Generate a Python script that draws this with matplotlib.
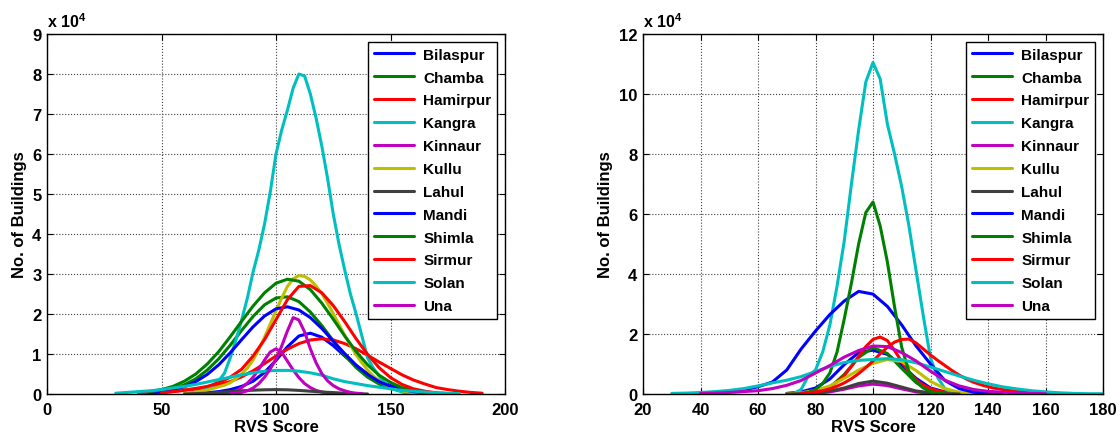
import numpy as np
import matplotlib
matplotlib.use("Agg")
import matplotlib.pyplot as plt

plt.rcParams['font.family'] = ['Liberation Sans', 'DejaVu Sans']
plt.rcParams['font.weight'] = 'bold'

districts = ["Bilaspur", "Chamba", "Hamirpur", "Kangra", "Kinnaur", "Kullu",
             "Lahul", "Mandi", "Shimla", "Sirmur", "Solan", "Una"]
colors = [(0, 0, 1), (0, 0.5, 0), (1, 0, 0), (0, 0.75, 0.75), (0.75, 0, 0.75),
          (0.75, 0.75, 0), (0.25, 0.25, 0.25), (0, 0, 1), (0, 0.5, 0), (1, 0, 0),
          (0, 0.75, 0.75), (0.75, 0, 0.75)]

# ---- Left panel: (first x, x step, no. of buildings in units of 1e4) ----
L_bilaspur = (65, 5, [0.01, 0.03, 0.06, 0.11, 0.19, 0.32, 0.54, 0.84, 1.18, 1.45, 1.52, 1.42, 1.21, 0.95,
                      0.71, 0.50, 0.33, 0.21, 0.13, 0.07, 0.04, 0.02])
L_chamba = (45, 5, [0.03, 0.07, 0.13, 0.23, 0.38, 0.60, 0.88, 1.22, 1.59, 1.94, 2.23, 2.40, 2.43, 2.31,
                    2.05, 1.71, 1.33, 0.97, 0.66, 0.42, 0.25, 0.14, 0.07, 0.04, 0.02])
L_hamirpur = (40, 5, [0.01, 0.02, 0.04, 0.06, 0.09, 0.12, 0.17, 0.23, 0.31, 0.43, 0.58, 0.76, 0.95, 1.12,
                      1.26, 1.35, 1.38, 1.35, 1.26, 1.13, 0.97, 0.80, 0.64, 0.48, 0.35, 0.25, 0.16, 0.11,
                      0.07, 0.04, 0.02])
L_kangra = (62.5, 2.5, [0.02, 0.04, 0.08, 0.14, 0.22, 0.33, 0.52, 0.9, 1.35, 1.85, 2.4, 3.05, 3.6, 4.25,
                        5.05, 6.0, 6.6, 7.1, 7.65, 8.0, 7.95, 7.5, 6.9, 6.2, 5.4, 4.5, 3.75, 3.1, 2.5,
                        2.0, 1.45, 0.9, 0.65, 0.45, 0.28, 0.17, 0.1, 0.05, 0.02, 0.01])
L_kinnaur = (75, 2.5, [0.01, 0.02, 0.04, 0.08, 0.16, 0.27, 0.42, 0.62, 0.85, 1.05, 1.13, 1.04, 0.82, 0.60,
                       0.41, 0.26, 0.16, 0.09, 0.05, 0.03, 0.01])
L_kullu = (60, 2.5, [0.02, 0.035, 0.05, 0.07, 0.10, 0.14, 0.18, 0.22, 0.28, 0.38, 0.50, 0.65, 0.85, 1.12,
                     1.42, 1.75, 2.08, 2.40, 2.69, 2.88, 2.96, 2.94, 2.85, 2.70, 2.51, 2.27, 2.01, 1.74,
                     1.47, 1.22, 0.98, 0.78, 0.60, 0.45, 0.33, 0.24, 0.17, 0.12, 0.08, 0.05, 0.03, 0.02,
                     0.01])
L_lahul = (60, 5, [0.0, 0.01, 0.02, 0.04, 0.06, 0.08, 0.095, 0.105, 0.11, 0.105, 0.09, 0.07, 0.05, 0.035,
                   0.02, 0.01, 0.0])
L_mandi = (45, 5, [0.03, 0.05, 0.10, 0.18, 0.31, 0.49, 0.73, 1.03, 1.36, 1.68, 1.95, 2.13, 2.18, 2.10,
                   1.91, 1.64, 1.32, 1.01, 0.72, 0.49, 0.31, 0.19, 0.11, 0.06, 0.03])
L_shimla = (45, 5, [0.06, 0.11, 0.19, 0.32, 0.50, 0.75, 1.06, 1.43, 1.82, 2.20, 2.53, 2.77, 2.87, 2.82,
                    2.61, 2.27, 1.87, 1.45, 1.06, 0.73, 0.47, 0.29, 0.16, 0.09, 0.04, 0.02])
L_sirmur = (50, 5, [0.03, 0.06, 0.10, 0.14, 0.19, 0.28, 0.42, 0.62, 0.95, 1.36, 1.86, 2.36, 2.69, 2.71,
                    2.53, 2.21, 1.81, 1.38, 0.99, 0.66, 0.41, 0.24, 0.13, 0.07, 0.03, 0.01])
L_solan = (30, 5, [0.02, 0.04, 0.06, 0.08, 0.11, 0.15, 0.19, 0.24, 0.30, 0.36, 0.42, 0.48, 0.53, 0.57,
                   0.59, 0.59, 0.57, 0.53, 0.47, 0.38, 0.31, 0.26, 0.21, 0.17, 0.13, 0.09, 0.07, 0.05,
                   0.03, 0.02, 0.01])
L_una = (80, 2.5, [0.01, 0.02, 0.04, 0.08, 0.15, 0.26, 0.42, 0.63, 0.87, 1.2, 1.58, 1.91, 1.85, 1.55,
                   1.13, 0.78, 0.51, 0.33, 0.21, 0.13, 0.08, 0.04, 0.02, 0.01])

# ---- Right panel ----
R_bilaspur = (70, 5, [0.02, 0.07, 0.2, 0.5, 0.98, 1.38, 1.46, 1.32, 0.95, 0.52, 0.2, 0.07, 0.02, 0.0])
R_chamba = (75, 5, [0.01, 0.05, 0.22, 0.65, 1.22, 1.55, 1.35, 0.85, 0.38, 0.12, 0.03, 0.0])
R_hamirpur = (75, 2.5, [0.01, 0.03, 0.07, 0.14, 0.25, 0.40, 0.62, 0.92, 1.25, 1.58, 1.82, 1.9, 1.78, 1.45,
                        1.08, 0.74, 0.47, 0.30, 0.18, 0.11, 0.06, 0.03, 0.01])
R_kangra = (72.5, 2.5, [0.02, 0.15, 0.6, 0.8, 1.4, 2.3, 3.6, 5.1, 7.0, 8.8, 10.4, 11.05, 10.5, 9.0, 8.0,
                        6.9, 5.6, 4.1, 2.6, 1.2, 0.55, 0.18, 0.04])
R_kinnaur = (75, 5, [0.0, 0.02, 0.07, 0.16, 0.27, 0.33, 0.28, 0.17, 0.07, 0.02, 0.0])
R_kullu = (70, 5, [0.01, 0.04, 0.12, 0.27, 0.52, 0.8, 1.02, 1.15, 1.08, 0.78, 0.42, 0.18, 0.06, 0.02, 0.0])
R_lahul = (70, 5, [0.0, 0.01, 0.04, 0.1, 0.2, 0.35, 0.43, 0.36, 0.23, 0.1, 0.04, 0.01, 0.0])
R_mandi = (40, 5, [0.03, 0.05, 0.09, 0.14, 0.24, 0.4, 0.8, 1.5, 2.1, 2.65, 3.1, 3.42, 3.33, 2.92, 2.3,
                   1.6, 1.0, 0.45, 0.18, 0.06, 0.02, 0.0])
R_shimla = (75, 2.5, [0.02, 0.05, 0.15, 0.35, 0.7, 1.4, 2.5, 3.7, 5.0, 6.05, 6.4, 5.6, 4.4, 2.9, 1.55,
                      0.75, 0.4, 0.2, 0.08, 0.03, 0.01])
R_sirmur = (75, 2.5, [0.02, 0.04, 0.07, 0.11, 0.17, 0.26, 0.37, 0.51, 0.68, 0.88, 1.1, 1.34, 1.56, 1.73,
                      1.82, 1.83, 1.7, 1.5, 1.3, 1.12, 0.95, 0.78, 0.63, 0.5, 0.39, 0.31, 0.24, 0.19,
                      0.15, 0.12, 0.09, 0.07, 0.05, 0.04, 0.03, 0.02, 0.01])
R_solan = (30, 5, [0.02, 0.03, 0.05, 0.08, 0.12, 0.18, 0.27, 0.37, 0.46, 0.58, 0.75, 0.92, 1.05, 1.12,
                   1.15, 1.18, 1.14, 1.04, 0.9, 0.75, 0.6, 0.46, 0.34, 0.24, 0.17, 0.11, 0.07, 0.04,
                   0.02, 0.01, 0.01])
R_una = (40, 5, [0.02, 0.03, 0.05, 0.08, 0.11, 0.18, 0.29, 0.45, 0.7, 0.95, 1.23, 1.45, 1.6, 1.58, 1.38,
                 1.1, 0.76, 0.46, 0.27, 0.15, 0.09, 0.06, 0.04, 0.02, 0.01])

left_series = [L_bilaspur, L_chamba, L_hamirpur, L_kangra, L_kinnaur, L_kullu,
               L_lahul, L_mandi, L_shimla, L_sirmur, L_solan, L_una]
right_series = [R_bilaspur, R_chamba, R_hamirpur, R_kangra, R_kinnaur, R_kullu,
                R_lahul, R_mandi, R_shimla, R_sirmur, R_solan, R_una]

left_xticks = [0, 50, 100, 150, 200]
left_yticks = [0, 1, 2, 3, 4, 5, 6, 7, 8, 9]
right_xticks = [20, 40, 60, 80, 100, 120, 140, 160, 180]
right_yticks = [0, 2, 4, 6, 8, 10, 12]

W, H = 1120, 439
fig = plt.figure(figsize=(W / 100, H / 100), dpi=100)
axL = fig.add_axes([47 / W, 44 / H, 458 / W, 360 / H])
axR = fig.add_axes([643 / W, 44 / H, 460 / W, 360 / H])


def draw(ax, series, xticks, yticks):
    for name, col, (x0, dx, ys) in zip(districts, colors, series):
        xs = x0 + dx * np.arange(len(ys))
        ax.plot(xs, ys, color=col, lw=2.2, label=name, solid_capstyle='round')
    ax.set_xlim(xticks[0], xticks[-1])
    ax.set_ylim(yticks[0], yticks[-1])
    ax.set_xticks(xticks)
    ax.set_yticks(yticks)
    ax.tick_params(direction='in', top=True, right=True, length=4, width=0.8,
                   labelsize=12, pad=4)
    ax.tick_params(axis='x', pad=6)
    for lab in ax.get_xticklabels() + ax.get_yticklabels():
        lab.set_fontweight('bold')
    ax.grid(True, linestyle=':', color='0.25', lw=0.8)
    for sp in ax.spines.values():
        sp.set_linewidth(1.0)
    ax.set_xlabel('RVS Score', fontsize=12, fontweight='bold', labelpad=1)
    ax.set_ylabel('No. of Buildings', fontsize=12, fontweight='bold', labelpad=4)
    ax.text(0.0, 1.012, r'x 10$^{\mathregular{4}}$', transform=ax.transAxes,
            fontsize=11.5, fontweight='bold', ha='left', va='bottom')
    leg = ax.legend(loc='upper right', prop={'weight': 'bold', 'size': 11},
                    handlelength=2.6, labelspacing=0.58, borderaxespad=0.5,
                    fancybox=False, framealpha=1, edgecolor='black', borderpad=0.4,
                    handletextpad=0.6)
    leg.get_frame().set_linewidth(1.0)


draw(axL, left_series, left_xticks, left_yticks)
draw(axR, right_series, right_xticks, right_yticks)

fig.savefig('out.png', dpi=100)
